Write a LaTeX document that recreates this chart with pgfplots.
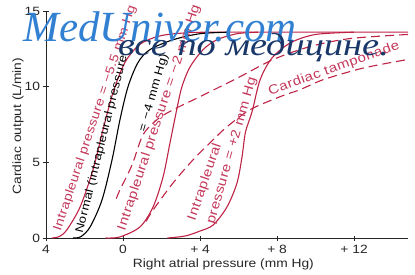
\documentclass[border=0pt]{standalone}
\usepackage{pgfplots}
\pgfplotsset{compat=1.18}
\usepackage{fontspec}
\setmainfont{Liberation Sans}[FakeStretch=1.15]
\newfontfamily\labfont{Liberation Sans}[FakeStretch=1.15, LetterSpace=4]
\newfontfamily\wmfont{Liberation Serif}
\newfontfamily\wmfontw{Liberation Serif}[FakeStretch=1.2]
\definecolor{crv}{RGB}{190,35,70}
\definecolor{lbl}{RGB}{195,55,90}
\definecolor{wmblue}{RGB}{50,128,210}
\definecolor{wmnavy}{RGB}{25,55,105}
\newcommand{\lf}{\fontsize{12}{14}\selectfont}
\newcommand{\lb}{\labfont\fontsize{13}{15}\selectfont}
\newcommand{\lbm}{\labfont\fontsize{12.3}{14}\selectfont}
\newcommand{\lbs}{\labfont\fontsize{11.5}{14}\selectfont}
\begin{document}
\begin{tikzpicture}
\path[use as bounding box] (0,0) rectangle (415pt,274pt);
\begin{axis}[
  at={(46pt,36pt)}, anchor=south west,
  scale only axis, width=362pt, height=227pt,
  xmin=-4, xmax=14.8, ymin=0, ymax=15,
  axis x line*=bottom, axis y line*=left,
  axis line style={line width=0.6pt, black!85},
  xtick={-4,0,4,8,12}, xticklabels={4,0,{+ 4},{+ 8},{+ 12}},
  ytick={0,5,10,15},
  tick align=center, major tick length=5pt,
  tick style={black!85, line width=0.5pt},
  /pgf/number format/assume math mode=true,
  tick label style={font=\lf, text=black!85},
  xticklabel style={yshift=-1pt},
  clip=false,
]
% Intrapleural -5.5
\addplot[crv, line width=1.1pt, smooth, tension=0.5] coordinates {
(-3.7,0) (-3.3,0.1) (-2.91,0.55) (-2.23,2.05) (-1.56,4.5) (-1.04,7.15) (-0.52,9.6) (0.10,11.6) (0.88,12.8) (1.9,13.35) (3.2,13.55) (5,13.6) (14.8,13.6)};
% Normal -4
\addplot[black, line width=1.1pt, smooth, tension=0.5] coordinates {
(-2.6,0) (-2.2,0.08) (-1.71,0.73) (-1.09,2.52) (-0.57,5.17) (-0.16,7.81) (0.26,10.0) (0.78,11.6) (1.40,12.45) (2.6,13.1) (4.0,13.5) (5.5,13.6)};
% -2
\addplot[crv, line width=1.1pt, smooth, tension=0.5] coordinates {
(-0.9,0) (-0.16,0.07) (0.88,0.73) (1.56,2.05) (2.08,4.04) (2.44,6.29) (2.81,8.61) (3.06,10.0) (3.48,11.3) (4.16,12.45) (4.88,13.1) (5.92,13.5) (7,13.6)};
% +2
\addplot[crv, line width=1.1pt, smooth, tension=0.5] coordinates {
(2.3,0) (3.22,0.13) (4.0,0.46) (4.68,0.86) (5.40,2.05) (5.92,3.64) (6.18,5.36) (6.36,7.0) (6.70,8.34) (7.12,10.46) (7.74,11.9) (8.7,12.9) (10,13.45) (12,13.6)};
% tamponade 1
\addplot[crv, line width=1.1pt, smooth, tension=0.5, dash pattern=on 9pt off 5pt] coordinates {
(-0.35,2.6) (-0.16,3.18) (0.47,4.83) (1.04,6.82) (1.82,7.88) (2.81,8.61) (4.0,9.34) (6.08,10.66) (7.79,11.79) (9.71,12.65) (11.79,13.18) (14.8,13.45)};
% tamponade 2
\addplot[crv, line width=1.1pt, smooth, tension=0.5, dash pattern=on 9pt off 5pt] coordinates {
(1.2,1.1) (1.56,1.85) (2.60,3.64) (3.64,5.17) (4.68,6.49) (5.40,7.35) (6.60,8.48) (8.16,9.34) (9.19,9.80) (10.39,10.46) (12.16,11.13) (13.35,11.46) (14.8,11.8)};
% labels
\node[text=lbl, rotate=71.6, font=\lbm] at (axis cs:-1.45,7.9) {Intrapleural pressure = −5.5 mm Hg};
\node[text=black, rotate=76, font=\lbs] at (axis cs:-1.1,6.2) {Normal (intrapleural pressure};
\node[text=black, rotate=74, font=\lbs] at (axis cs:1.6,9.6) {= −4 mm Hg)};
\node[text=lbl, rotate=71.6, font=\lb] at (axis cs:1.88,7.95) {Intrapleural pressure = −2 mm Hg};
\node[text=lbl, rotate=71, font=\lb] at (axis cs:4.26,3.71) {Intrapleural};
\node[text=lbl, rotate=74, font=\lb] at (axis cs:5.66,5.76) {pressure = +2 mm Hg};
\node[text=lbl, rotate=20, font=\lb] at (axis cs:10.96,11.19) {Cardiac tamponade};
% axis labels
\node[font=\lf, text=black!85] at (rel axis cs:0.49,-0.1145) {Right atrial pressure (mm Hg)};
\node[font=\lf, text=black!85, rotate=90] at (rel axis cs:-0.077,0.493) {Cardiac output (L/min)};
\end{axis}
% watermark
\node[anchor=base west, inner sep=0pt, text=wmblue, font=\wmfont\itshape\fontsize{43}{43}\selectfont] at (23pt,233pt) {MedUniver.com};
\node[anchor=base west, inner sep=0pt, text=wmnavy, font=\wmfontw\itshape\fontsize{32}{32}\selectfont] at (118pt,219pt) {все по медицине.};
\end{tikzpicture}
\end{document}
